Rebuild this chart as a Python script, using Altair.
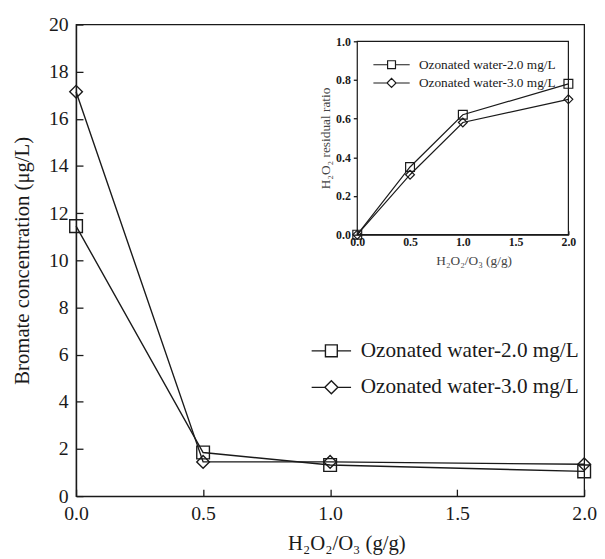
import altair as alt
import pandas as pd

# ---------------- data ----------------
ratio = [0.0, 0.5, 1.0, 2.0]
series_names = ["Ozonated water-2.0 mg/L", "Ozonated water-3.0 mg/L"]
bromate_20 = [11.45, 1.85, 1.32, 1.05]
bromate_30 = [17.15, 1.45, 1.45, 1.35]
residual_20 = [0.0, 0.35, 0.62, 0.78]
residual_30 = [0.0, 0.31, 0.58, 0.70]

x_ticks = [0.0, 0.5, 1.0, 1.5, 2.0]
main_y_ticks = [0, 2, 4, 6, 8, 10, 12, 14, 16, 18, 20]
inset_y_ticks = [0.0, 0.2, 0.4, 0.6, 0.8, 1.0]
x_domain = [0.0, 2.0]
main_y_domain = [0, 20]
inset_y_domain = [0.0, 1.0]


def frame(a, b):
    rows = []
    for name, vals in zip(series_names, [a, b]):
        for r, v in zip(ratio, vals):
            rows.append({"ratio": r, "value": v, "series": name})
    return pd.DataFrame(rows)


main_df = frame(bromate_20, bromate_30)
inset_df = frame(residual_20, residual_30)
box_df = pd.DataFrame({"k": [0]})

# ---------------- style ----------------
W, H = 515, 478
FONT = "Liberation Serif"
INK = "#1a1a1a"
INSET_X_RANGE = [285, 499]
INSET_Y_RANGE = [213, 17]
LABEL_FS = 20
TITLE_FS = 21
INSET_FS = 12

main_leg_paths = [
    "M-3.33,0H-1M1,0H3.33M-1,-1H1V1H-1Z",
    "M-3.33,0H-1.1M1.1,0H3.33M-1.1,0L0,-1.1L1.1,0L0,1.1Z",
]
inset_leg_paths = [
    "M-4.6,0H-1M1,0H4.6M-1,-1H1V1H-1Z",
    "M-4.6,0H-1.15M1.15,0H4.6M-1.15,0L0,-1.15L1.15,0L0,1.15Z",
]

# ---------------- main chart ----------------
mx = alt.X(
    "ratio:Q",
    scale=alt.Scale(domain=x_domain, nice=False),
    axis=alt.Axis(
        values=x_ticks, format=".1f", title="H₂O₂/O₃ (g/g)",
        labelFontSize=LABEL_FS, titleFontSize=TITLE_FS, labelPadding=8, ticks=False, tickSize=0,
        labelFlush=False, labelOverlap=False, titleX=274, titleY=37,
    ),
)
my = alt.Y(
    "value:Q",
    scale=alt.Scale(domain=main_y_domain, nice=False),
    axis=alt.Axis(
        values=main_y_ticks, title="Bromate concentration (μg/L)",
        labelFontSize=LABEL_FS, titleFontSize=TITLE_FS, labelPadding=8, ticks=False, tickSize=0,
        labelFlush=False, labelOverlap=False, titlePadding=16,
    ),
)

main_lines = alt.Chart(main_df).mark_line(color=INK, strokeWidth=1.4).encode(
    x=mx, y=my, detail="series:N"
)
main_pts = alt.Chart(main_df).mark_point(
    color=INK, filled=False, strokeWidth=1.4, size=165, opacity=1
).encode(
    x=mx, y=my,
    shape=alt.Shape("series:N", scale=alt.Scale(domain=series_names, range=["square", "diamond"]), legend=None),
)
main_leg = alt.Chart(main_df).mark_point(
    color=INK, filled=False, strokeWidth=1.4, size=144, opacity=0
).encode(
    x=mx, y=my,
    shape=alt.Shape(
        "series:N",
        scale=alt.Scale(domain=series_names, range=main_leg_paths),
        legend=alt.Legend(
            title=None, orient="none", legendX=248, legendY=320, padding=0,
            labelFont=FONT, labelFontSize=21.5, labelColor=INK, labelLimit=0,
            symbolSize=144, symbolStrokeColor=INK, symbolStrokeWidth=1.4,
            symbolFillColor="white", symbolOpacity=1, labelOffset=19, rowPadding=14,
        ),
    ),
)
main = alt.layer(main_lines, main_pts, main_leg).resolve_scale(shape="independent")

# inward ticks of the main frame (axes placed on the opposite edges)
main_ticks = alt.Chart(main_df).mark_point(opacity=0).encode(
    x=alt.X("ratio:Q", scale=alt.Scale(domain=x_domain, nice=False),
            axis=alt.Axis(orient="top", offset=-H, values=x_ticks, labels=False,
                          domain=False, tickSize=7, title=None)),
    y=alt.Y("value:Q", scale=alt.Scale(domain=main_y_domain, nice=False),
            axis=alt.Axis(orient="right", offset=-W, values=main_y_ticks, labels=False,
                          domain=False, tickSize=7, title=None)),
)

# ---------------- inset chart ----------------
ix = alt.X(
    "ratio:Q",
    scale=alt.Scale(domain=x_domain, range=INSET_X_RANGE, nice=False),
    axis=alt.Axis(
        orient="bottom", offset=-265, values=x_ticks, format=".1f",
        title="H₂O₂/O₃ (g/g)", labelFontSize=INSET_FS, labelFontWeight="bold",
        titleFontSize=13.5, titleColor="#444", labelPadding=2, ticks=False, tickSize=0,
        labelFlush=False, labelOverlap=False, titleX=403, titleY=19,
    ),
)
iy = alt.Y(
    "value:Q",
    scale=alt.Scale(domain=inset_y_domain, range=INSET_Y_RANGE, nice=False),
    axis=alt.Axis(
        orient="left", offset=-285, values=inset_y_ticks, format=".1f",
        title="H₂O₂ residual ratio", labelFontSize=INSET_FS, labelFontWeight="bold",
        titleFontSize=13.5, titleColor="#444", labelPadding=3, tickSize=4,
        labelFlush=False, labelOverlap=False, titlePadding=3,
    ),
)

inset_box = alt.Chart(box_df).mark_rect(
    fill="white", stroke=INK, strokeWidth=1.2
).encode(
    x=alt.X(datum=x_domain[0], scale=alt.Scale(domain=x_domain, range=INSET_X_RANGE, nice=False)),
    x2=alt.datum(x_domain[1]),
    y=alt.Y(datum=inset_y_domain[0], scale=alt.Scale(domain=inset_y_domain, range=INSET_Y_RANGE, nice=False)),
    y2=alt.datum(inset_y_domain[1]),
)
inset_lines = alt.Chart(inset_df).mark_line(color=INK, strokeWidth=1.2).encode(
    x=ix, y=iy, detail="series:N"
)
inset_pts = alt.Chart(inset_df).mark_point(
    color=INK, filled=False, strokeWidth=1.2, size=80, opacity=1
).encode(
    x=ix, y=iy,
    shape=alt.Shape("series:N", scale=alt.Scale(domain=series_names, range=["square", "diamond"]), legend=None),
)
inset_leg = alt.Chart(inset_df).mark_point(
    color=INK, filled=False, strokeWidth=1.2, size=64, opacity=0
).encode(
    x=ix, y=iy,
    shape=alt.Shape(
        "series:N",
        scale=alt.Scale(domain=series_names, range=inset_leg_paths),
        legend=alt.Legend(
            title=None, orient="none", legendX=313, legendY=34, padding=0,
            labelFont=FONT, labelFontSize=13.5, labelColor=INK, labelLimit=0,
            symbolSize=64, symbolStrokeColor=INK, symbolStrokeWidth=1.2,
            symbolFillColor="white", symbolOpacity=1, labelOffset=21, rowPadding=3.5,
        ),
    ),
)
inset = alt.layer(inset_box, inset_lines, inset_pts, inset_leg).resolve_scale(shape="independent")

inset_ticks = alt.Chart(inset_df).mark_point(opacity=0).encode(
    x=alt.X("ratio:Q", scale=alt.Scale(domain=x_domain, range=INSET_X_RANGE, nice=False),
            axis=alt.Axis(orient="top", offset=-INSET_Y_RANGE[0], values=x_ticks, labels=False,
                          domain=False, tickSize=4, title=None)),
    y=alt.Y("value:Q", scale=alt.Scale(domain=inset_y_domain, range=INSET_Y_RANGE, nice=False),
            axis=None),
)

chart = (
    alt.layer(main, main_ticks, inset, inset_ticks)
    .resolve_scale(x="independent", y="independent", shape="independent")
    .properties(
        width=W, height=H,
        padding={"left": 69, "top": 13, "right": 13, "bottom": 60},
        autosize=alt.AutoSizeParams(type="none"),
    )
    .configure_view(stroke=INK, strokeWidth=1.3)
    .configure_axis(
        grid=False, labelFont=FONT, titleFont=FONT, domainColor=INK, tickColor=INK,
        labelColor=INK, titleColor=INK, titleFontWeight="normal", domainWidth=1.3,
        tickWidth=1.3,
    )
)

chart.save("out.html", embed_options={"renderer": "svg", "actions": False})
